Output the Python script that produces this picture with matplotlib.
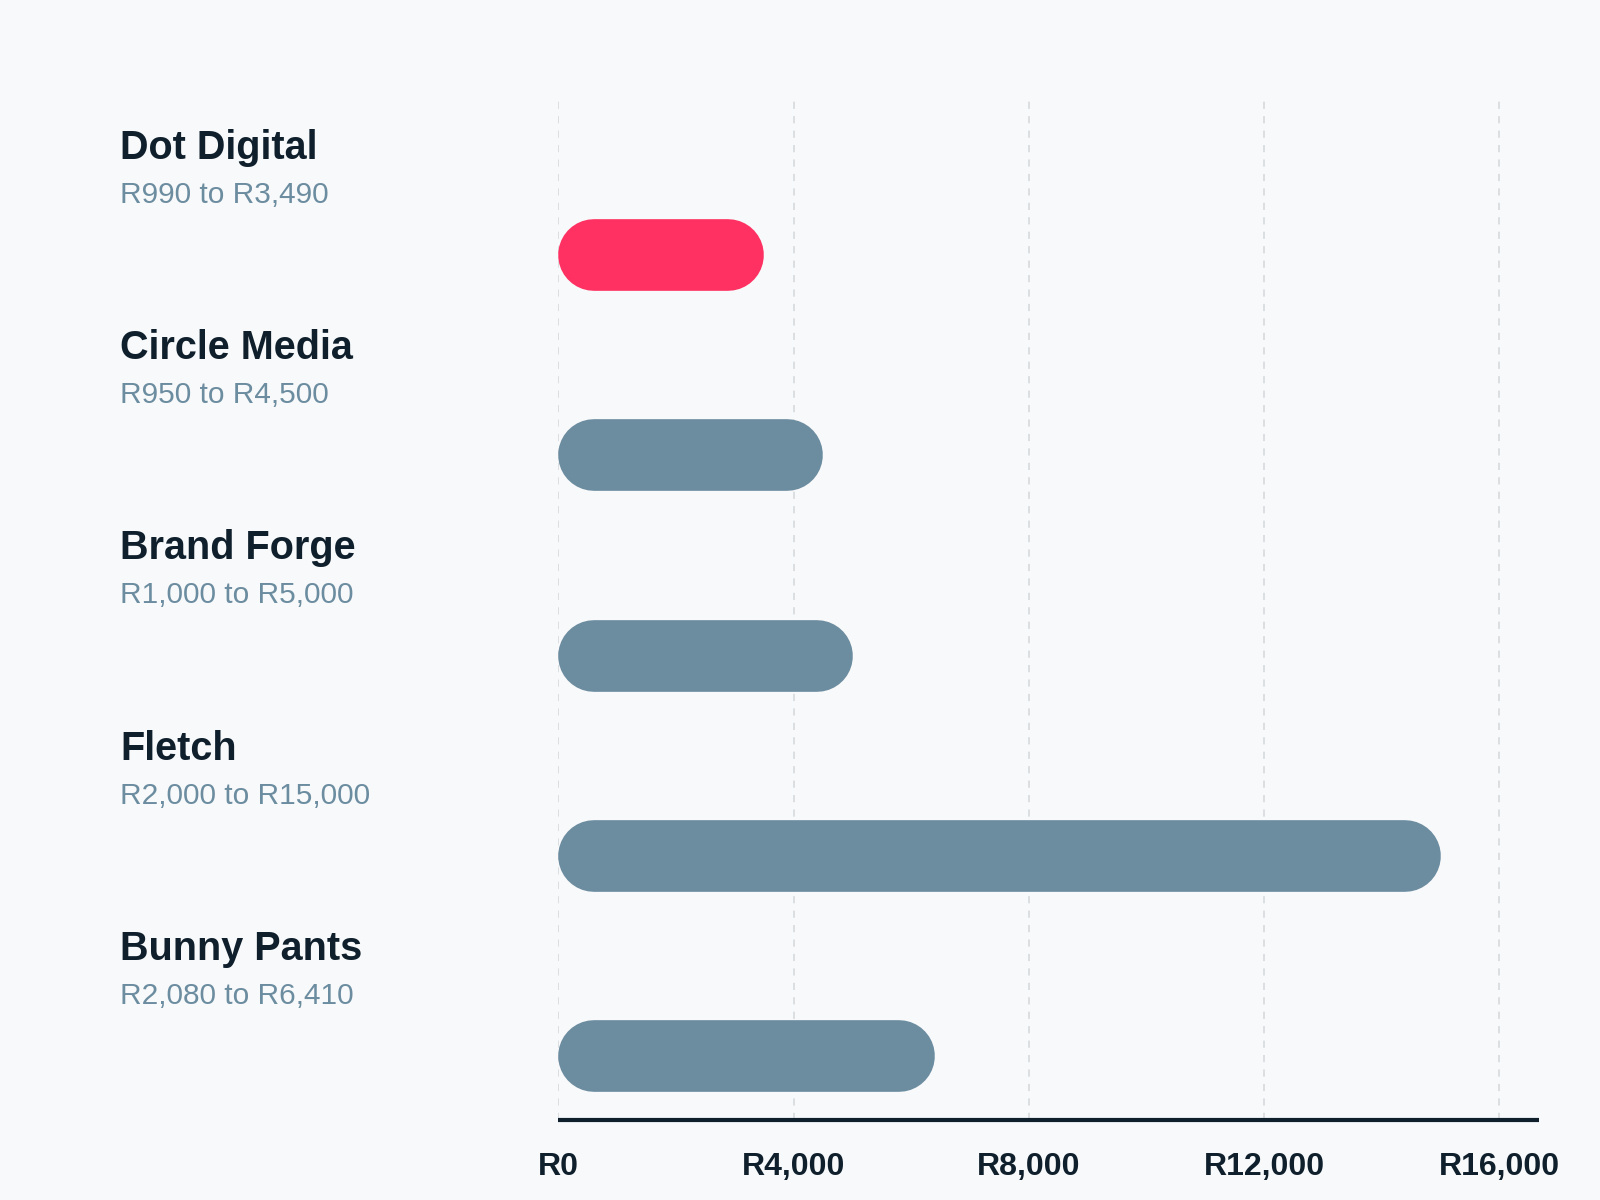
import matplotlib.pyplot as plt
import matplotlib.transforms as mtransforms
from matplotlib.ticker import FuncFormatter

plt.rcParams['font.family'] = ['Liberation Sans', 'DejaVu Sans']

agencies = ["Dot Digital", "Circle Media", "Brand Forge", "Fletch", "Bunny Pants"]
price_low = [990, 950, 1000, 2000, 2080]
price_high = [3490, 4500, 5000, 15000, 6410]
highlight = "Dot Digital"

xticks = [0, 4000, 8000, 12000, 16000]
x_max = 16680

bg = "#F7F9FA"
dark = "#0F1F2C"
slate = "#6C8CA0"
red = "#FF3162"

fig = plt.figure(figsize=(16, 12), dpi=100, facecolor=bg)
ax = fig.add_axes([0.349, 0.0667, 0.613, 0.85])
ax.set_facecolor(bg)

ax.set_xlim(0, x_max)
ax.set_ylim(4.32, -0.775)

# bar thickness in y units -> pixels, for round-capped lines
fig.canvas.draw()
bbox = ax.get_window_extent()
px_per_x = bbox.width / x_max
px_per_y = bbox.height / (4.32 + 0.775)
bar_px = 0.358 * px_per_y
lw_pt = bar_px * 72 / fig.dpi
r_data = (bar_px / 2) / px_per_x

# labels: x in figure coords, y in data coords
label_tr = mtransforms.blended_transform_factory(fig.transFigure, ax.transData)

for i, name in enumerate(agencies):
    color = red if name == highlight else slate
    ax.plot([r_data, price_high[i] - r_data], [i, i], color=color, lw=lw_pt,
            solid_capstyle='round', zorder=3)
    ax.text(0.075, i - 0.48, name, transform=label_tr,
            fontsize=28.5, fontweight='bold', color=dark, va='baseline', ha='left')
    ax.text(0.075, i - 0.26, f"R{price_low[i]:,} to R{price_high[i]:,}",
            transform=label_tr, fontsize=21.5, color=slate,
            va='baseline', ha='left')

ax.set_xticks(xticks)
ax.xaxis.set_major_formatter(FuncFormatter(lambda v, p: f"R{int(v):,}"))
ax.tick_params(axis='x', length=0, pad=23, labelsize=23, labelcolor=dark)
for lab in ax.get_xticklabels():
    lab.set_fontweight('bold')
ax.set_yticks([])

ax.grid(axis='x', color='#DADDE0', linestyle=(0, (4, 4)), linewidth=1.3, zorder=0)
for s in ['top', 'right', 'left']:
    ax.spines[s].set_visible(False)
ax.spines['bottom'].set_color(dark)
ax.spines['bottom'].set_linewidth(3)
ax.spines['bottom'].set_capstyle('butt')
ax.spines['bottom'].set_zorder(4)

fig.savefig("out.png", dpi=100, facecolor=bg)
